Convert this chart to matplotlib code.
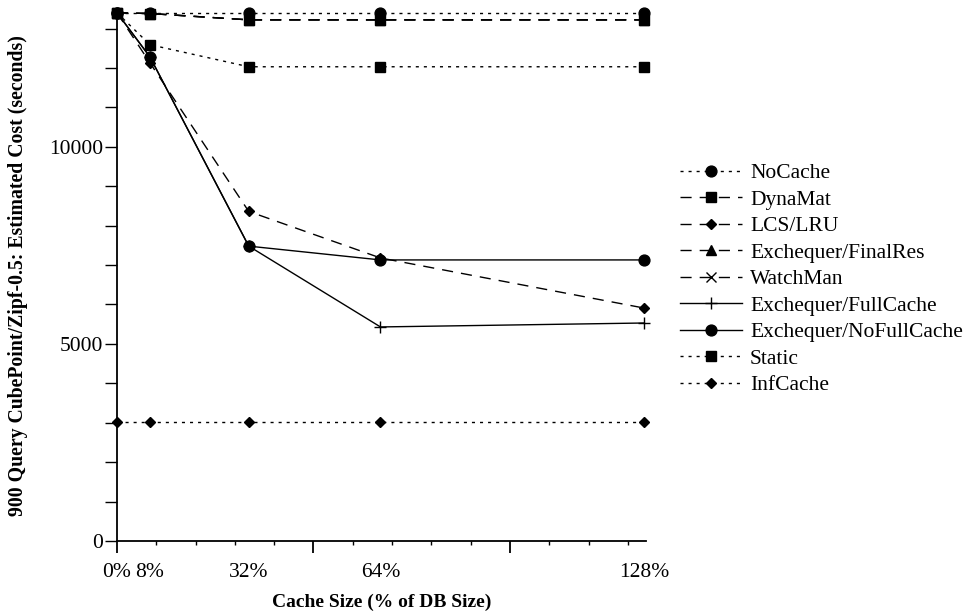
import matplotlib
matplotlib.use("Agg")
import matplotlib.pyplot as plt
import numpy as np

plt.rcParams['font.family'] = ['Liberation Serif', 'DejaVu Serif']
plt.rcParams['mathtext.fontset'] = 'stix'

# ---- data ----
cache_pct = [0, 8, 32, 64, 128]
tick_labels = ["0%", "8%", "32%", "64%", "128%"]
nocache = [13400, 13400, 13400, 13400, 13400]
dynamat = [13400, 13380, 13220, 13220, 13220]
lcs_lru = [13400, 12130, 8360, 7180, 5910]
finalres = [13400, 13380, 13220, 13220, 13220]
watchman = [13400, 13380, 13220, 13220, 13220]
fullcache = [13400, 12280, 7480, 5430, 5530]
nofullcache = [13400, 12280, 7480, 7130, 7130]
static = [13400, 12590, 12030, 12030, 12030]
infcache = [3010, 3010, 3010, 3010, 3010]

W, H = 968, 615
fig = plt.figure(figsize=(W / 100, H / 100), dpi=100)
ax = fig.add_axes([117 / W, (H - 541) / H, 529 / W, 531 / H])

lw = 1.0
dot = (2.2, 3.6)
dash = (8.0, 5.8)

series = [
    ("NoCache", nocache, dot, 'o', 7.8, 3),
    ("DynaMat", dynamat, dash, 's', 7.8, 6),
    ("LCS/LRU", lcs_lru, dash, 'D', 5.6, 3),
    ("Exchequer/FinalRes", finalres, dash, '^', 7.5, 2),
    ("WatchMan", watchman, dash, 'x', 7.0, 2),
    ("Exchequer/FullCache", fullcache, None, '+', 8.0, 3),
    ("Exchequer/NoFullCache", nofullcache, None, 'o', 7.8, 4),
    ("Static", static, dot, 's', 7.8, 3),
    ("InfCache", infcache, dot, 'D', 5.6, 3),
]

for name, vals, ds, mk, ms, z in series:
    kw = dict(color='black', lw=lw, marker=mk, markersize=ms, label=name,
              markerfacecolor='black', markeredgecolor='black', zorder=z,
              clip_on=False, markeredgewidth=1.0)
    if ds is None:
        ax.plot(cache_pct, vals, linestyle='-', **kw)
    else:
        ax.plot(cache_pct, vals, linestyle=(0, ds), **kw)

ax.set_xlim(0, 128.5)
ax.set_ylim(0, 13470)

for s in ('top', 'right'):
    ax.spines[s].set_visible(False)
for s in ('left', 'bottom'):
    ax.spines[s].set_linewidth(1.3)

# y ticks
ax.set_yticks([0, 5000, 10000])
ax.set_yticks(np.arange(0, 13001, 1000), minor=True)
ax.tick_params(axis='y', which='both', direction='out', length=8.6, width=1.0,
               labelsize=15.5, pad=1.5)

# x tick marks (unlabelled) and labels
step = 9.546
ax.set_xticks([0, step * 5, step * 10])
ax.set_xticklabels([])
ax.set_xticks(np.arange(0, 128.5, step), minor=True)
ax.tick_params(axis='x', which='major', direction='out', length=8.6, width=1.3)
ax.tick_params(axis='x', which='minor', direction='out', length=3.0, width=1.0)

sec = ax.secondary_xaxis('bottom')
sec.set_xticks(cache_pct)
sec.set_xticklabels(tick_labels)
sec.tick_params(axis='x', length=0, labelsize=15.5, pad=16)
sec.spines['bottom'].set_visible(False)

sec.set_xlabel("Cache Size (% of DB Size)", fontsize=14, fontweight='bold', labelpad=8)

fig.text(18 / W, 0.5 * ((H - 541) + (H - 10)) / H,
         "900 Query CubePoint/Zipf-0.5: Estimated Cost (seconds)",
         rotation=90, ha='center', va='center', fontsize=14.2, fontweight='bold')

leg = ax.legend(loc='upper left', bbox_to_anchor=(680 / W, 1 - 163 / H),
                bbox_transform=fig.transFigure, frameon=False, fontsize=15.5,
                handlelength=2.9, handletextpad=0.35, labelspacing=0.3,
                borderpad=0, borderaxespad=0)

fig.savefig("out.png", dpi=100)
